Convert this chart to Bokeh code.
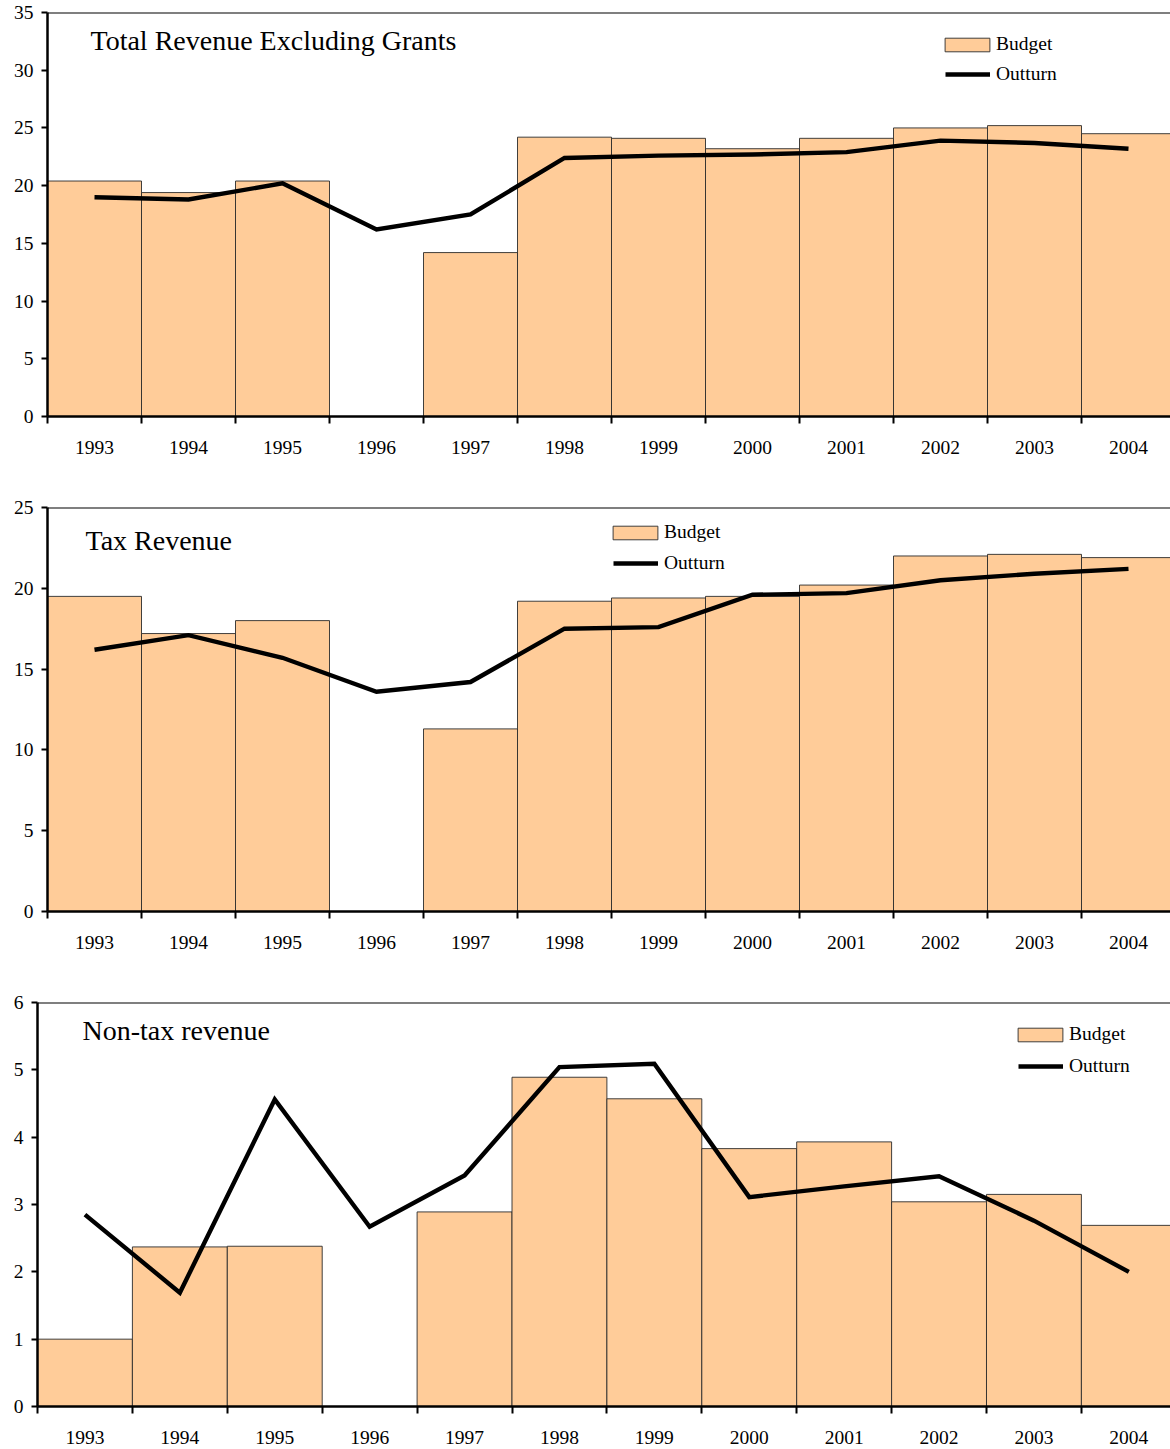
from bokeh.plotting import figure
from bokeh.models import (Range1d, FixedTicker, Span, Label, Legend, LegendItem,
                          ColumnDataSource)
from bokeh.embed import file_html
from bokeh.resources import INLINE

years = ["1993", "1994", "1995", "1996", "1997", "1998", "1999", "2000",
         "2001", "2002", "2003", "2004"]

total_budget = [20.4, 19.4, 20.4, 0.0, 14.2, 24.2, 24.1, 23.2, 24.1, 25.0, 25.2, 24.5]
total_outturn = [19.0, 18.8, 20.2, 16.2, 17.5, 22.4, 22.6, 22.7, 22.9, 23.9, 23.7, 23.2]

tax_budget = [19.5, 17.2, 18.0, 0.0, 11.3, 19.2, 19.4, 19.5, 20.2, 22.0, 22.1, 21.9]
tax_outturn = [16.2, 17.1, 15.7, 13.6, 14.2, 17.5, 17.6, 19.6, 19.7, 20.5, 20.9, 21.2]

nontax_budget = [1.0, 2.37, 2.38, 0.0, 2.89, 4.89, 4.57, 3.83, 3.93, 3.04, 3.15, 2.69]
nontax_outturn = [2.85, 1.69, 4.56, 2.67, 3.43, 5.04, 5.09, 3.11, 3.27, 3.42, 2.76, 2.0]

titles = ["Total Revenue Excluding Grants", "Tax Revenue", "Non-tax revenue"]
y_max = [35, 25, 6]
y_step = [5, 5, 1]

FONT = "Liberation Serif"
BAR_FILL = "#FFCC99"
WIDTH = 1170


def panel(budget, outturn, title, ymax, ystep, height, border_left, border_bottom,
          bin_px, budget_xy, outturn_xy, title_xy):
    frame_w = WIDTH - border_left
    xend = frame_w / bin_px
    p = figure(width=WIDTH, height=height, output_backend="svg", toolbar_location=None,
               x_range=Range1d(0, xend), y_range=Range1d(0, ymax),
               min_border_left=border_left, min_border_right=0, min_border_top=12,
               min_border_bottom=border_bottom)
    p.outline_line_color = None
    p.xgrid.visible = False
    p.ygrid.visible = False
    p.background_fill_color = "white"
    p.border_fill_color = "white"

    n = len(years)
    centers = [i + 0.5 for i in range(n)]
    src = ColumnDataSource(dict(x=centers, budget=budget, outturn=outturn, year=years))
    bars = p.vbar(x="x", top="budget", width=1.0, source=src, fill_color=BAR_FILL,
                  line_color="#2b2b2b", line_width=0.9)
    line = p.line(x="x", y="outturn", source=src, line_color="black", line_width=4.4,
                  line_join="miter")

    # x axis: labels at bin centres, ticks at bin boundaries
    xa = p.xaxis[0]
    xa.ticker = FixedTicker(ticks=centers, minor_ticks=list(range(n + 1)))
    xa.major_label_overrides = {c: y for c, y in zip(centers, years)}
    xa.major_tick_in = 0
    xa.major_tick_out = 0
    xa.minor_tick_in = 0
    xa.minor_tick_out = 7
    xa.minor_tick_line_width = 2
    xa.minor_tick_line_color = "black"
    xa.axis_line_width = 2.5
    xa.axis_line_color = "black"
    xa.major_label_text_font = FONT
    xa.major_label_text_font_size = "19.5px"
    xa.major_label_text_color = "black"
    xa.major_label_standoff = 17

    ya = p.yaxis[0]
    ya.ticker = FixedTicker(ticks=list(range(0, ymax + 1, ystep)))
    ya.major_tick_in = 0
    ya.major_tick_out = 6
    ya.major_tick_line_width = 2
    ya.major_tick_line_color = "black"
    ya.minor_tick_line_color = None
    ya.axis_line_width = 2.5
    ya.axis_line_color = "black"
    ya.major_label_text_font = FONT
    ya.major_label_text_font_size = "19.5px"
    ya.major_label_text_color = "black"
    ya.major_label_standoff = 8

    p.add_layout(Span(location=ymax, dimension="width", line_color="black", line_width=2.2))

    p.add_layout(Label(x=title_xy[0], y=title_xy[1], x_units="screen", y_units="screen",
                       text=title, text_font=FONT, text_font_size="28px",
                       text_color="black", text_baseline="middle"))

    common = dict(orientation="vertical", padding=0, margin=0, label_height=20,
                  border_line_color=None, background_fill_alpha=0,
                  label_text_font=FONT, label_text_font_size="19.5px",
                  label_text_color="black")
    # area glyphs are drawn inset by 10% in legends, so the box legend is enlarged
    leg_b = Legend(items=[LegendItem(label="Budget", renderers=[bars])],
                   location=budget_xy, glyph_width=56, glyph_height=17,
                   label_standoff=1, **common)
    leg_o = Legend(items=[LegendItem(label="Outturn", renderers=[line])],
                   location=outturn_xy, glyph_width=45, glyph_height=14,
                   label_standoff=6, **common)
    p.add_layout(leg_b, "center")
    p.add_layout(leg_o, "center")
    return p


p1 = panel(total_budget, total_outturn, titles[0], y_max[0], y_step[0],
           height=495, border_left=47, border_bottom=79, bin_px=94.0,
           budget_xy=(892, 361), outturn_xy=(898, 331), title_xy=(43, 376))
p2 = panel(tax_budget, tax_outturn, titles[1], y_max[1], y_step[1],
           height=495, border_left=47, border_bottom=79, bin_px=94.0,
           budget_xy=(560, 368), outturn_xy=(566, 337), title_xy=(38, 371))
p3 = panel(nontax_budget, nontax_outturn, titles[2], y_max[2], y_step[2],
           height=459, border_left=37, border_bottom=43, bin_px=94.9,
           budget_xy=(975, 361), outturn_xy=(981, 329), title_xy=(45, 376))

# separate roots so that the frames are not aligned with each other
open("out.html", "w").write(file_html([p1, p2, p3], INLINE))
